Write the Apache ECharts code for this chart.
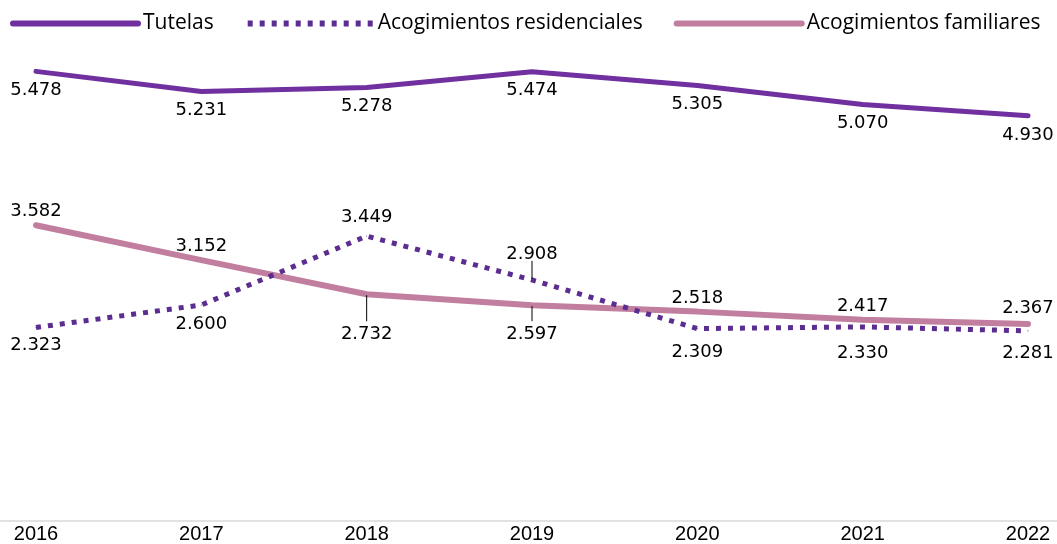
<!DOCTYPE html>
<html style="height: 100%">

<head>
    <meta charset="utf-8">
</head>

<body style="height: 100%; margin: 0; background: #fff">
    <div id="container" style="height: 100%"></div>

    <script type="text/javascript" src="https://cdn.jsdelivr.net/npm/echarts@6/dist/echarts.min.js"></script>

    <script type="text/javascript">
        var years = ['2016', '2017', '2018', '2019', '2020', '2021', '2022'];
        var tutelas = [5478, 5231, 5278, 5474, 5305, 5070, 4930];
        var residenciales = [2323, 2600, 3449, 2908, 2309, 2330, 2281];
        var familiares = [3582, 3152, 2732, 2597, 2518, 2417, 2367];

        // vertical shift of each label (px, + is below the point)
        var tutelasOff = [19, 19, 19, 19, 19, 19, 19];
        var residOff = [18, 19, -19, -26, 24, 26, 22];
        var famOff = [-14, -14, 40, 29, -13, -13, -16];
        // labels that get a small leader line: [series, index]
        var leaders = [[1, 3], [2, 2], [2, 3]];

        var dom = document.getElementById('container');
        var myChart = echarts.init(dom);

        function fmt(v) {
            return String(v).replace(/\B(?=(\d{3})+(?!\d))/g, '.');
        }

        function withLabels(values, offsets) {
            return values.map(function (v, i) {
                return { value: v, label: { offset: [0, offsets[i]] } };
            });
        }

        var labelStyle = {
            show: true,
            position: 'inside',
            fontFamily: 'DejaVu Sans',
            fontSize: 18,
            color: '#000',
            formatter: function (p) { return fmt(p.value); }
        };

        var allSeries = [tutelas, residenciales, familiares];
        var allOffs = [tutelasOff, residOff, famOff];

        var option = {
            animation: false,
            legend: {
                left: 10,
                top: 13,
                padding: 0,
                itemWidth: 125,
                itemHeight: 10,
                itemGap: 31,
                itemStyle: { opacity: 0 },
                lineStyle: { width: 6 },
                textStyle: { fontFamily: 'Open Sans', fontSize: 21, color: '#000' },
                data: ['Tutelas', 'Acogimientos residenciales', 'Acogimientos familiares']
            },
            grid: { left: 36, right: 29, top: 29, bottom: 23 },
            xAxis: {
                type: 'category',
                data: years,
                boundaryGap: false,
                axisLine: { show: false },
                axisTick: { show: false },
                axisLabel: {
                    margin: 8,
                    fontFamily: 'Liberation Sans',
                    fontSize: 20,
                    color: '#000'
                }
            },
            yAxis: {
                type: 'value',
                min: 0,
                max: 6000,
                show: false
            },
            graphic: [{
                type: 'line',
                shape: { x1: 0, y1: 521, x2: 1057, y2: 521 },
                style: { stroke: '#d9d9d9', lineWidth: 1.5 },
                z: 1
            }],
            series: [
                {
                    name: 'Tutelas',
                    type: 'line',
                    data: withLabels(tutelas, tutelasOff),
                    symbol: 'circle',
                    symbolSize: 1,
                    itemStyle: { color: '#7030a0' },
                    lineStyle: { color: '#7030a0', width: 5, cap: 'round' },
                    label: labelStyle,
                    z: 3
                },
                {
                    name: 'Acogimientos residenciales',
                    type: 'line',
                    data: withLabels(residenciales, residOff),
                    symbol: 'circle',
                    symbolSize: 1,
                    itemStyle: { color: '#5b2d90' },
                    lineStyle: { color: '#5b2d90', width: 5, type: [5, 7], cap: 'butt' },
                    label: labelStyle,
                    z: 3
                },
                {
                    name: 'Acogimientos familiares',
                    type: 'line',
                    data: withLabels(familiares, famOff),
                    symbol: 'circle',
                    symbolSize: 1,
                    itemStyle: { color: '#c17e9f' },
                    lineStyle: { color: '#c17e9f', width: 6, cap: 'round' },
                    label: labelStyle,
                    z: 2
                },
                {
                    type: 'custom',
                    silent: true,
                    data: leaders.map(function (l) {
                        return [l[1], allSeries[l[0]][l[1]], allOffs[l[0]][l[1]]];
                    }),
                    renderItem: function (params, api) {
                        var p = api.coord([api.value(0), api.value(1)]);
                        var off = api.value(2);
                        var sign = off < 0 ? -1 : 1;
                        return {
                            type: 'line',
                            shape: { x1: p[0], y1: p[1] + sign, x2: p[0], y2: p[1] + off - sign * 10 - 3 },
                            style: { stroke: '#000', lineWidth: 1 }
                        };
                    },
                    z: 4
                }
            ]
        };

        myChart.setOption(option);
    </script>
</body>

</html>
